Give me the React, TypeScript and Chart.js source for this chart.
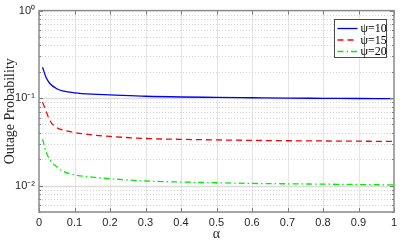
import React, { useEffect, useRef } from "react";
import { Chart, registerables } from "chart.js";

Chart.register(...registerables);

const alpha = [0.01, 0.02, 0.03, 0.05, 0.07, 0.1, 0.15, 0.2, 0.3, 0.4, 0.5, 0.6, 0.7, 0.8, 0.9, 1.0];
const psi10 = [0.225, 0.172, 0.148, 0.128, 0.12, 0.115, 0.111, 0.109, 0.105, 0.103, 0.102, 0.101, 0.1, 0.0995, 0.099, 0.0985];
const psi15 = [0.09, 0.071, 0.056, 0.046, 0.043, 0.0405, 0.038, 0.0365, 0.0346, 0.0338, 0.0333, 0.0329, 0.0326, 0.0324, 0.0322, 0.032];
const psi20 = [0.034, 0.0242, 0.02, 0.0164, 0.0145, 0.0133, 0.0125, 0.012, 0.0113, 0.011, 0.0108, 0.0106, 0.0105, 0.0104, 0.0103, 0.0102];
const seriesLabels = ["ψ=10", "ψ=15", "ψ=20"];
const xTicks = [0, 0.1, 0.2, 0.3, 0.4, 0.5, 0.6, 0.7, 0.8, 0.9, 1];
const yTicks = [0.01, 0.1, 1];
const yTickLabels = ["10⁻²", "10⁻¹", "10⁰"];

const gridPlugin = {
  id: "matlabGrid",
  beforeDatasetsDraw(chart: any) {
    const { ctx, chartArea: a, scales } = chart;
    const xs = scales.x;
    const ys = scales.y;
    ctx.save();
    ctx.strokeStyle = "#e4e4e4";
    ctx.lineWidth = 1;
    for (const v of xTicks) {
      const px = Math.round(xs.getPixelForValue(v)) + 0.5;
      if (px <= a.left + 1 || px >= a.right - 1) continue;
      ctx.beginPath();
      ctx.moveTo(px, a.top);
      ctx.lineTo(px, a.bottom);
      ctx.stroke();
    }
    ctx.strokeStyle = "#d4d4d4";
    ctx.setLineDash([1, 2]);
    for (let e = -3; e <= 0; e++) {
      for (let k = 2; k <= 9; k++) {
        const v = k * Math.pow(10, e);
        if (v < ys.min || v > ys.max) continue;
        const py = Math.round(ys.getPixelForValue(v)) + 0.5;
        ctx.beginPath();
        ctx.moveTo(a.left, py);
        ctx.lineTo(a.right, py);
        ctx.stroke();
      }
    }
    ctx.setLineDash([]);
    ctx.strokeStyle = "#dcdcdc";
    ctx.lineWidth = 1.5;
    for (const v of yTicks) {
      const py = Math.round(ys.getPixelForValue(v)) + 0.5;
      if (py <= a.top + 1) continue;
      ctx.beginPath();
      ctx.moveTo(a.left, py);
      ctx.lineTo(a.right, py);
      ctx.stroke();
    }
    ctx.restore();
  },
  afterDatasetsDraw(chart: any) {
    const { ctx, chartArea: a, scales } = chart;
    const xs = scales.x;
    const ys = scales.y;
    ctx.save();
    ctx.strokeStyle = "#7a7a7a";
    ctx.lineWidth = 1;
    for (const v of xTicks) {
      const px = Math.round(xs.getPixelForValue(v)) + 0.5;
      ctx.beginPath();
      ctx.moveTo(px, a.bottom);
      ctx.lineTo(px, a.bottom - 4);
      ctx.moveTo(px, a.top);
      ctx.lineTo(px, a.top + 4);
      ctx.stroke();
    }
    for (let e = -3; e <= 0; e++) {
      for (let k = 1; k <= 9; k++) {
        const v = k * Math.pow(10, e);
        if (v < ys.min || v > ys.max) continue;
        const py = Math.round(ys.getPixelForValue(v)) + 0.5;
        const len = k === 1 ? 4 : 2;
        ctx.beginPath();
        ctx.moveTo(a.left, py);
        ctx.lineTo(a.left + len, py);
        ctx.moveTo(a.right, py);
        ctx.lineTo(a.right - len, py);
        ctx.stroke();
      }
    }
    ctx.strokeStyle = "#8a8a8a";
    ctx.lineWidth = 1.5;
    ctx.strokeRect(a.left, a.top, a.right - a.left, a.bottom - a.top);

    const w = 52;
    const h = 38;
    const lx = Math.round(a.right - 8 - w) + 0.5;
    const ly = Math.round(a.top + 8) + 0.5;
    ctx.fillStyle = "#ffffff";
    ctx.fillRect(lx, ly, w, h);
    ctx.strokeStyle = "#4d4d4d";
    ctx.lineWidth = 1;
    ctx.strokeRect(lx, ly, w, h);
    chart.data.datasets.forEach((ds: any, i: number) => {
      const cy = ly + 9 + i * 11.5;
      ctx.strokeStyle = ds.borderColor;
      ctx.lineWidth = ds.borderWidth;
      ctx.setLineDash(ds.borderDash || []);
      ctx.beginPath();
      ctx.moveTo(lx + 3, cy);
      ctx.lineTo(lx + 23, cy);
      ctx.stroke();
      ctx.setLineDash([]);
      ctx.fillStyle = "#000000";
      ctx.font = "12px 'Liberation Serif', serif";
      ctx.textBaseline = "middle";
      ctx.textAlign = "left";
      ctx.fillText(ds.label, lx + 26, cy + 0.5);
    });
    ctx.restore();
  },
};

export default function App() {
  const ref = useRef<HTMLCanvasElement | null>(null);
  useEffect(() => {
    document.body.style.margin = "0";
    const canvas = ref.current!;
    const mk = (vals: number[]) => alpha.map((a, i) => ({ x: a, y: vals[i] }));
    const chart = new Chart(canvas, {
      type: "line",
      data: {
        datasets: [
          { label: seriesLabels[0], data: mk(psi10), borderColor: "#0000ff", borderWidth: 1.3, borderDash: [], pointRadius: 0, cubicInterpolationMode: "monotone", fill: false },
          { label: seriesLabels[1], data: mk(psi15), borderColor: "#ff0000", borderWidth: 1.3, borderDash: [6, 4], pointRadius: 0, cubicInterpolationMode: "monotone", fill: false },
          { label: seriesLabels[2], data: mk(psi20), borderColor: "#00ee00", borderWidth: 1.3, borderDash: [6, 3, 1.5, 3], pointRadius: 0, cubicInterpolationMode: "monotone", fill: false },
        ] as any,
      },
      options: {
        responsive: false,
        animation: false,
        layout: { padding: { top: 6, right: 10, left: 0, bottom: 0 } },
        plugins: { legend: { display: false }, tooltip: { enabled: false } },
        scales: {
          x: {
            type: "linear",
            min: 0,
            max: 1,
            afterBuildTicks: (s: any) => { s.ticks = xTicks.map((v) => ({ value: v })); },
            afterFit: (s: any) => { s.height = 31; },
            grid: { display: false, drawTicks: false },
            border: { display: false },
            ticks: {
              padding: 4,
              maxRotation: 0,
              color: "#262626",
              font: { family: "'Liberation Sans', Arial", size: 11 },
              callback: (v: any) => String(Number(v)),
            },
            title: {
              display: true,
              text: "α",
              color: "#262626",
              padding: { top: 0, bottom: 0 },
              font: { family: "'Liberation Serif', serif", size: 14 },
            },
          },
          y: {
            type: "logarithmic",
            min: 0.005,
            max: 1,
            afterBuildTicks: (s: any) => { s.ticks = yTicks.map((v) => ({ value: v, major: true })); },
            afterFit: (s: any) => { s.width = 39; },
            grid: { display: false, drawTicks: false },
            border: { display: false },
            ticks: {
              padding: 4,
              color: "#262626",
              font: { family: "'Liberation Sans', Arial", size: 11 },
              callback: (v: any) => {
                const i = yTicks.findIndex((t) => Math.abs(t - Number(v)) < 1e-9);
                return i >= 0 ? yTickLabels[i] : "";
              },
            },
            title: {
              display: true,
              text: "Outage Probability",
              color: "#262626",
              padding: { top: 2, bottom: 0 },
              font: { family: "'Liberation Serif', serif", size: 14 },
            },
          },
        },
      },
      plugins: [gridPlugin],
    } as any);
    return () => chart.destroy();
  }, []);
  return <canvas ref={ref} width={404} height={243} style={{ display: "block" }} />;
}
